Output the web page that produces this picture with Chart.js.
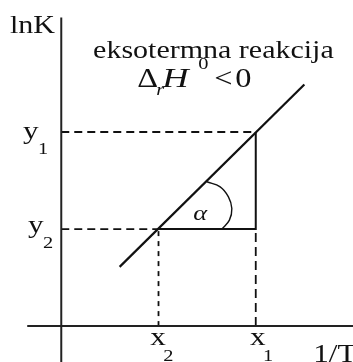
<!DOCTYPE html>
<html>
<head>
<meta charset="utf-8">
<script src="https://cdn.jsdelivr.net/npm/chart.js@4/dist/chart.umd.min.js"></script>
<style>
  html, body { margin: 0; padding: 0; background: #fff; }
  #wrap { width: 353px; height: 362px; }
</style>
</head>
<body>
<div id="wrap"><canvas id="c" width="353" height="362"></canvas></div>
<script>
// van 't Hoff plot: ln K against 1/T for an exothermic reaction
const xTicks = [1, 2];              // x2, x1 on the 1/T axis
const yTicks = [1, 2];              // y2, y1 on the ln K axis
const xTickNames = ['x', 'x'];
const xTickSubs = ['2', '1'];
const yTickNames = ['y', 'y'];
const yTickSubs = ['2', '1'];
const lineX = [0.6, 2.5];           // straight ln K vs 1/T line
const lineY = [0.61, 2.49];
const xAxisSpan = [-0.35, 3.0];
const yAxisSpan = [-0.37, 3.18];
const arcX = [1.497, 1.634, 1.719, 1.754, 1.729, 1.651];   // angle mark at (x2, y2)
const arcY = [1.487, 1.435, 1.332, 1.212, 1.092, 0.999];
const xTitle = '1/T';
const yTitle = 'lnK';
const caption = 'eksotermna reakcija';
const angleName = 'α';

const INK = '#111';
const SERIF = '"Liberation Serif", "DejaVu Serif", serif';
const SX = 1.2;   // horizontal stretch of all lettering

function pts(xs, ys) { return xs.map((x, i) => ({ x: x, y: ys[i] })); }
function seg(data, opts) {
  return Object.assign({
    data: data, showLine: true, pointRadius: 0, borderColor: INK,
    borderWidth: 2, fill: false, tension: 0
  }, opts || {});
}

// Lettering placed in data units; each part may be offset (px) from the anchor.
const labels = [
  { x: -0.527, y: 3.02, parts: [{ t: yTitle, f: '25px ' + SERIF }] },
  { x: 0.327, y: 2.76, parts: [{ t: caption, f: '25px ' + SERIF }] },
  { x: 0.781, y: 2.463, parts: [
      { t: 'Δ', f: '27px ' + SERIF, dx: 0, dy: 0 },
      { t: 'r', f: 'italic 17px ' + SERIF, dx: 19, dy: 8 },
      { t: 'H', f: 'italic 27px ' + SERIF, dx: 25, dy: 0, sx: 1.35 },
      { t: '0', f: '17px ' + SERIF, dx: 61, dy: -18 },
      { t: '<', f: '27px ' + SERIF, dx: 77, dy: 0 },
      { t: '0', f: '27px ' + SERIF, dx: 98, dy: 0 }
  ] },
  { x: 1.428, y: 1.154, center: true, parts: [{ t: angleName, f: 'italic 22px ' + SERIF }] },
  { x: 2.59, y: -0.371, parts: [{ t: xTitle, f: '26px ' + SERIF }] }
];
const yLabelX = [-0.342, -0.393];
const yLabelBase = [0.958, 1.927];
const xLabelBase = -0.196;
const xLabelX = [0.914, 1.942];
yTicks.forEach((v, i) => labels.push({ x: yLabelX[i], y: yLabelBase[i], parts: [
  { t: yTickNames[i], f: '26px ' + SERIF, dx: 0, dy: 0 },
  { t: yTickSubs[i], f: '17px ' + SERIF, dx: 15, dy: 15 }
] }));
xTicks.forEach((v, i) => labels.push({ x: xLabelX[i], y: xLabelBase, parts: [
  { t: xTickNames[i], f: '26px ' + SERIF, dx: 0, dy: 0 },
  { t: xTickSubs[i], f: '17px ' + SERIF, dx: 13, dy: 16 }
] }));

const lettering = {
  id: 'lettering',
  afterDatasetsDraw(chart) {
    const ctx = chart.ctx, xs = chart.scales.x, ys = chart.scales.y;
    ctx.save();
    ctx.fillStyle = INK;
    ctx.textBaseline = 'alphabetic';
    labels.forEach(l => {
      const px = xs.getPixelForValue(l.x), py = ys.getPixelForValue(l.y);
      l.parts.forEach(p => {
        ctx.save();
        ctx.font = p.f;
        const s = p.sx || SX;
        let ox = px + (p.dx || 0);
        let oy = py + (p.dy || 0);
        if (l.center) {
          ctx.textBaseline = 'middle';
          ox -= ctx.measureText(p.t).width * s / 2;
        }
        ctx.translate(ox, oy);
        ctx.scale(s, 1);
        ctx.textAlign = 'left';
        ctx.fillText(p.t, 0, 0);
        ctx.restore();
      });
    });
    ctx.restore();
  }
};

new Chart(document.getElementById('c'), {
  type: 'scatter',
  data: {
    datasets: [
      seg([{ x: 0, y: yAxisSpan[0] }, { x: 0, y: yAxisSpan[1] }], { borderColor: '#222' }),
      seg([{ x: xAxisSpan[0], y: 0 }, { x: xAxisSpan[1], y: 0 }], { borderColor: '#222' }),
      seg([{ x: 0, y: yTicks[1] }, { x: xTicks[1], y: yTicks[1] }], { borderDash: [8, 5], borderWidth: 1.8 }),
      seg([{ x: 0, y: yTicks[0] }, { x: xTicks[0], y: yTicks[0] }], { borderDash: [8, 5], borderWidth: 1.8 }),
      seg([{ x: xTicks[0], y: 0 }, { x: xTicks[0], y: yTicks[0] }], { borderDash: [5, 5], borderWidth: 1.8 }),
      seg([{ x: xTicks[1], y: 0 }, { x: xTicks[1], y: yTicks[0] }], { borderDash: [9, 5], borderWidth: 1.8 }),
      seg([{ x: xTicks[0], y: yTicks[0] }, { x: xTicks[1], y: yTicks[0] }, { x: xTicks[1], y: yTicks[1] }]),
      seg(pts(lineX, lineY), { borderWidth: 2.2 }),
      seg(pts(arcX, arcY), { borderWidth: 1.4, tension: 0.4 })
    ]
  },
  options: {
    responsive: false,
    animation: false,
    devicePixelRatio: 1,
    layout: { padding: 0 },
    plugins: { legend: { display: false }, tooltip: { enabled: false } },
    scales: {
      x: { type: 'linear', min: -0.63, max: 3.0, display: false },
      y: { type: 'linear', min: -0.37, max: 3.36, display: false }
    }
  },
  plugins: [lettering]
});
</script>
</body>
</html>
